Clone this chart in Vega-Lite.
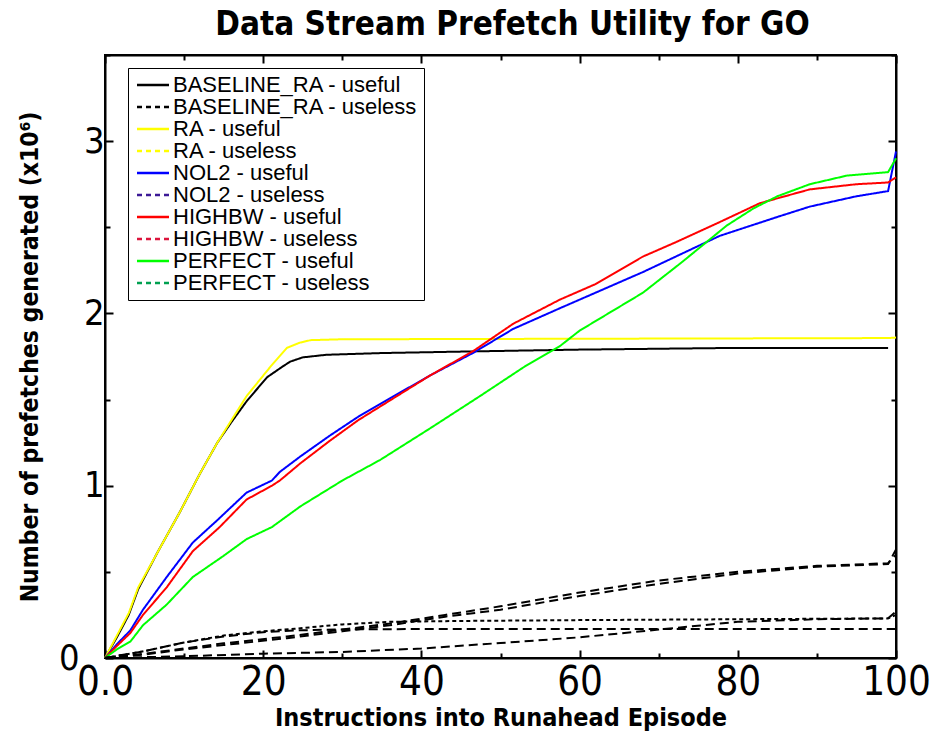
{
  "$schema": "https://vega.github.io/schema/vega-lite/v6.json",
  "width": 791,
  "height": 603,
  "autosize": "none",
  "padding": {"left": 105, "top": 55, "right": 45, "bottom": 79},
  "background": "white",
  "config": {"view": {"stroke": "black", "strokeWidth": 2}, "font": "Liberation Sans"},
  "title": {"text": "Data Stream Prefetch Utility for GO", "font": "'Liberation Sans Narrow', 'DejaVu Sans Condensed', 'Roboto Condensed', 'Liberation Sans'", "fontSize": 33, "fontWeight": "bold", "color": "black", "anchor": "middle", "offset": -5, "dx": 12},
  "datasets": {
    "useful": [
      {"series": "BASELINE_RA - useful", "instructions": 0, "prefetches": 0},
      {"series": "BASELINE_RA - useful", "instructions": 1.5, "prefetches": 0.12},
      {"series": "BASELINE_RA - useful", "instructions": 3, "prefetches": 0.25},
      {"series": "BASELINE_RA - useful", "instructions": 4.2, "prefetches": 0.4},
      {"series": "BASELINE_RA - useful", "instructions": 6.6, "prefetches": 0.61},
      {"series": "BASELINE_RA - useful", "instructions": 9.5, "prefetches": 0.85},
      {"series": "BASELINE_RA - useful", "instructions": 12, "prefetches": 1.07},
      {"series": "BASELINE_RA - useful", "instructions": 14.2, "prefetches": 1.25},
      {"series": "BASELINE_RA - useful", "instructions": 16, "prefetches": 1.37},
      {"series": "BASELINE_RA - useful", "instructions": 17.9, "prefetches": 1.49},
      {"series": "BASELINE_RA - useful", "instructions": 20.5, "prefetches": 1.63},
      {"series": "BASELINE_RA - useful", "instructions": 22.4, "prefetches": 1.69},
      {"series": "BASELINE_RA - useful", "instructions": 23.4, "prefetches": 1.72},
      {"series": "BASELINE_RA - useful", "instructions": 25, "prefetches": 1.745},
      {"series": "BASELINE_RA - useful", "instructions": 28, "prefetches": 1.76},
      {"series": "BASELINE_RA - useful", "instructions": 35, "prefetches": 1.77},
      {"series": "BASELINE_RA - useful", "instructions": 47, "prefetches": 1.78},
      {"series": "BASELINE_RA - useful", "instructions": 60, "prefetches": 1.79},
      {"series": "BASELINE_RA - useful", "instructions": 80, "prefetches": 1.8},
      {"series": "BASELINE_RA - useful", "instructions": 99, "prefetches": 1.8},
      {"series": "RA - useful", "instructions": 0, "prefetches": 0},
      {"series": "RA - useful", "instructions": 1.5, "prefetches": 0.13},
      {"series": "RA - useful", "instructions": 3, "prefetches": 0.26},
      {"series": "RA - useful", "instructions": 4.2, "prefetches": 0.41},
      {"series": "RA - useful", "instructions": 6.6, "prefetches": 0.61},
      {"series": "RA - useful", "instructions": 9.5, "prefetches": 0.85},
      {"series": "RA - useful", "instructions": 12, "prefetches": 1.07},
      {"series": "RA - useful", "instructions": 14.2, "prefetches": 1.25},
      {"series": "RA - useful", "instructions": 17.9, "prefetches": 1.52},
      {"series": "RA - useful", "instructions": 20.9, "prefetches": 1.69},
      {"series": "RA - useful", "instructions": 23, "prefetches": 1.8},
      {"series": "RA - useful", "instructions": 24.6, "prefetches": 1.83},
      {"series": "RA - useful", "instructions": 26, "prefetches": 1.845},
      {"series": "RA - useful", "instructions": 30, "prefetches": 1.85},
      {"series": "RA - useful", "instructions": 50, "prefetches": 1.852},
      {"series": "RA - useful", "instructions": 80, "prefetches": 1.855},
      {"series": "RA - useful", "instructions": 99, "prefetches": 1.857},
      {"series": "RA - useful", "instructions": 100, "prefetches": 1.86},
      {"series": "NOL2 - useful", "instructions": 0, "prefetches": 0},
      {"series": "NOL2 - useful", "instructions": 1.5, "prefetches": 0.08},
      {"series": "NOL2 - useful", "instructions": 3.2, "prefetches": 0.16},
      {"series": "NOL2 - useful", "instructions": 4.8, "prefetches": 0.28},
      {"series": "NOL2 - useful", "instructions": 7.8, "prefetches": 0.47},
      {"series": "NOL2 - useful", "instructions": 11.1, "prefetches": 0.67},
      {"series": "NOL2 - useful", "instructions": 14.2, "prefetches": 0.8},
      {"series": "NOL2 - useful", "instructions": 17.9, "prefetches": 0.96},
      {"series": "NOL2 - useful", "instructions": 21.1, "prefetches": 1.03},
      {"series": "NOL2 - useful", "instructions": 22.1, "prefetches": 1.08},
      {"series": "NOL2 - useful", "instructions": 24.7, "prefetches": 1.17},
      {"series": "NOL2 - useful", "instructions": 28.4, "prefetches": 1.29},
      {"series": "NOL2 - useful", "instructions": 32, "prefetches": 1.4},
      {"series": "NOL2 - useful", "instructions": 36.9, "prefetches": 1.53},
      {"series": "NOL2 - useful", "instructions": 41.1, "prefetches": 1.64},
      {"series": "NOL2 - useful", "instructions": 46.5, "prefetches": 1.77},
      {"series": "NOL2 - useful", "instructions": 51.6, "prefetches": 1.91},
      {"series": "NOL2 - useful", "instructions": 57.5, "prefetches": 2.03},
      {"series": "NOL2 - useful", "instructions": 60, "prefetches": 2.08},
      {"series": "NOL2 - useful", "instructions": 68, "prefetches": 2.24},
      {"series": "NOL2 - useful", "instructions": 77.7, "prefetches": 2.45},
      {"series": "NOL2 - useful", "instructions": 85, "prefetches": 2.56},
      {"series": "NOL2 - useful", "instructions": 89.1, "prefetches": 2.62},
      {"series": "NOL2 - useful", "instructions": 95, "prefetches": 2.68},
      {"series": "NOL2 - useful", "instructions": 99, "prefetches": 2.71},
      {"series": "NOL2 - useful", "instructions": 100, "prefetches": 2.94},
      {"series": "HIGHBW - useful", "instructions": 0, "prefetches": 0},
      {"series": "HIGHBW - useful", "instructions": 1.5, "prefetches": 0.07},
      {"series": "HIGHBW - useful", "instructions": 3.2, "prefetches": 0.145},
      {"series": "HIGHBW - useful", "instructions": 4.8, "prefetches": 0.25},
      {"series": "HIGHBW - useful", "instructions": 7.8, "prefetches": 0.41},
      {"series": "HIGHBW - useful", "instructions": 11.1, "prefetches": 0.62},
      {"series": "HIGHBW - useful", "instructions": 14.5, "prefetches": 0.76},
      {"series": "HIGHBW - useful", "instructions": 17.9, "prefetches": 0.92},
      {"series": "HIGHBW - useful", "instructions": 21.1, "prefetches": 1.0},
      {"series": "HIGHBW - useful", "instructions": 22.1, "prefetches": 1.03},
      {"series": "HIGHBW - useful", "instructions": 24.7, "prefetches": 1.13},
      {"series": "HIGHBW - useful", "instructions": 28.4, "prefetches": 1.26},
      {"series": "HIGHBW - useful", "instructions": 32, "prefetches": 1.38},
      {"series": "HIGHBW - useful", "instructions": 36.9, "prefetches": 1.52},
      {"series": "HIGHBW - useful", "instructions": 41.1, "prefetches": 1.64},
      {"series": "HIGHBW - useful", "instructions": 46.5, "prefetches": 1.78},
      {"series": "HIGHBW - useful", "instructions": 51.6, "prefetches": 1.94},
      {"series": "HIGHBW - useful", "instructions": 57.5, "prefetches": 2.08},
      {"series": "HIGHBW - useful", "instructions": 62, "prefetches": 2.17},
      {"series": "HIGHBW - useful", "instructions": 68, "prefetches": 2.33},
      {"series": "HIGHBW - useful", "instructions": 72, "prefetches": 2.41},
      {"series": "HIGHBW - useful", "instructions": 77.7, "prefetches": 2.53},
      {"series": "HIGHBW - useful", "instructions": 82.8, "prefetches": 2.64},
      {"series": "HIGHBW - useful", "instructions": 89.1, "prefetches": 2.72},
      {"series": "HIGHBW - useful", "instructions": 95, "prefetches": 2.75},
      {"series": "HIGHBW - useful", "instructions": 99, "prefetches": 2.76},
      {"series": "HIGHBW - useful", "instructions": 100, "prefetches": 2.79},
      {"series": "PERFECT - useful", "instructions": 0, "prefetches": 0},
      {"series": "PERFECT - useful", "instructions": 1.5, "prefetches": 0.05},
      {"series": "PERFECT - useful", "instructions": 3.2, "prefetches": 0.095},
      {"series": "PERFECT - useful", "instructions": 4.8, "prefetches": 0.19},
      {"series": "PERFECT - useful", "instructions": 7.8, "prefetches": 0.31},
      {"series": "PERFECT - useful", "instructions": 11.1, "prefetches": 0.47},
      {"series": "PERFECT - useful", "instructions": 14.9, "prefetches": 0.59},
      {"series": "PERFECT - useful", "instructions": 17.9, "prefetches": 0.69},
      {"series": "PERFECT - useful", "instructions": 21.1, "prefetches": 0.76},
      {"series": "PERFECT - useful", "instructions": 24.7, "prefetches": 0.88},
      {"series": "PERFECT - useful", "instructions": 30, "prefetches": 1.03},
      {"series": "PERFECT - useful", "instructions": 34.8, "prefetches": 1.15},
      {"series": "PERFECT - useful", "instructions": 41, "prefetches": 1.33},
      {"series": "PERFECT - useful", "instructions": 47.4, "prefetches": 1.52},
      {"series": "PERFECT - useful", "instructions": 53, "prefetches": 1.69},
      {"series": "PERFECT - useful", "instructions": 57.5, "prefetches": 1.81},
      {"series": "PERFECT - useful", "instructions": 60, "prefetches": 1.9},
      {"series": "PERFECT - useful", "instructions": 64, "prefetches": 2.01},
      {"series": "PERFECT - useful", "instructions": 68, "prefetches": 2.12},
      {"series": "PERFECT - useful", "instructions": 73, "prefetches": 2.3},
      {"series": "PERFECT - useful", "instructions": 78.6, "prefetches": 2.51},
      {"series": "PERFECT - useful", "instructions": 82, "prefetches": 2.61},
      {"series": "PERFECT - useful", "instructions": 85, "prefetches": 2.68},
      {"series": "PERFECT - useful", "instructions": 89.1, "prefetches": 2.75},
      {"series": "PERFECT - useful", "instructions": 93.8, "prefetches": 2.8},
      {"series": "PERFECT - useful", "instructions": 99, "prefetches": 2.82},
      {"series": "PERFECT - useful", "instructions": 100, "prefetches": 2.9}
    ],
    "useless": [
      {"series": "BASELINE_RA - useless", "instructions": 0, "prefetches": 0},
      {"series": "BASELINE_RA - useless", "instructions": 5, "prefetches": 0.04},
      {"series": "BASELINE_RA - useless", "instructions": 10, "prefetches": 0.09},
      {"series": "BASELINE_RA - useless", "instructions": 15, "prefetches": 0.125},
      {"series": "BASELINE_RA - useless", "instructions": 20, "prefetches": 0.15},
      {"series": "BASELINE_RA - useless", "instructions": 24, "prefetches": 0.16},
      {"series": "BASELINE_RA - useless", "instructions": 30, "prefetches": 0.166},
      {"series": "BASELINE_RA - useless", "instructions": 40, "prefetches": 0.168},
      {"series": "BASELINE_RA - useless", "instructions": 99, "prefetches": 0.168},
      {"series": "BASELINE_RA - useless", "instructions": 100, "prefetches": 0.168},
      {"series": "RA - useless", "instructions": 0, "prefetches": 0},
      {"series": "RA - useless", "instructions": 5, "prefetches": 0.04},
      {"series": "RA - useless", "instructions": 10, "prefetches": 0.09},
      {"series": "RA - useless", "instructions": 15, "prefetches": 0.13},
      {"series": "RA - useless", "instructions": 20, "prefetches": 0.155},
      {"series": "RA - useless", "instructions": 24, "prefetches": 0.17},
      {"series": "RA - useless", "instructions": 30, "prefetches": 0.195},
      {"series": "RA - useless", "instructions": 36, "prefetches": 0.21},
      {"series": "RA - useless", "instructions": 45, "prefetches": 0.215},
      {"series": "RA - useless", "instructions": 60, "prefetches": 0.22},
      {"series": "RA - useless", "instructions": 80, "prefetches": 0.225},
      {"series": "RA - useless", "instructions": 99, "prefetches": 0.23},
      {"series": "RA - useless", "instructions": 100, "prefetches": 0.25},
      {"series": "NOL2 - useless", "instructions": 0, "prefetches": 0},
      {"series": "NOL2 - useless", "instructions": 5, "prefetches": 0.02},
      {"series": "NOL2 - useless", "instructions": 10, "prefetches": 0.05},
      {"series": "NOL2 - useless", "instructions": 15, "prefetches": 0.075},
      {"series": "NOL2 - useless", "instructions": 23, "prefetches": 0.115},
      {"series": "NOL2 - useless", "instructions": 30, "prefetches": 0.155},
      {"series": "NOL2 - useless", "instructions": 36, "prefetches": 0.19},
      {"series": "NOL2 - useless", "instructions": 43, "prefetches": 0.24},
      {"series": "NOL2 - useless", "instructions": 50, "prefetches": 0.28},
      {"series": "NOL2 - useless", "instructions": 60, "prefetches": 0.36},
      {"series": "NOL2 - useless", "instructions": 70, "prefetches": 0.43},
      {"series": "NOL2 - useless", "instructions": 80, "prefetches": 0.49},
      {"series": "NOL2 - useless", "instructions": 90, "prefetches": 0.53},
      {"series": "NOL2 - useless", "instructions": 99, "prefetches": 0.545},
      {"series": "NOL2 - useless", "instructions": 100, "prefetches": 0.63},
      {"series": "HIGHBW - useless", "instructions": 0, "prefetches": 0},
      {"series": "HIGHBW - useless", "instructions": 5, "prefetches": 0.025},
      {"series": "HIGHBW - useless", "instructions": 10, "prefetches": 0.055},
      {"series": "HIGHBW - useless", "instructions": 15, "prefetches": 0.085},
      {"series": "HIGHBW - useless", "instructions": 23, "prefetches": 0.125},
      {"series": "HIGHBW - useless", "instructions": 30, "prefetches": 0.165},
      {"series": "HIGHBW - useless", "instructions": 36, "prefetches": 0.2},
      {"series": "HIGHBW - useless", "instructions": 43, "prefetches": 0.25},
      {"series": "HIGHBW - useless", "instructions": 50, "prefetches": 0.3},
      {"series": "HIGHBW - useless", "instructions": 60, "prefetches": 0.38},
      {"series": "HIGHBW - useless", "instructions": 70, "prefetches": 0.45},
      {"series": "HIGHBW - useless", "instructions": 80, "prefetches": 0.5},
      {"series": "HIGHBW - useless", "instructions": 90, "prefetches": 0.535},
      {"series": "HIGHBW - useless", "instructions": 99, "prefetches": 0.55},
      {"series": "HIGHBW - useless", "instructions": 100, "prefetches": 0.6},
      {"series": "PERFECT - useless", "instructions": 0, "prefetches": 0},
      {"series": "PERFECT - useless", "instructions": 5, "prefetches": 0.005},
      {"series": "PERFECT - useless", "instructions": 10, "prefetches": 0.01},
      {"series": "PERFECT - useless", "instructions": 20, "prefetches": 0.025},
      {"series": "PERFECT - useless", "instructions": 30, "prefetches": 0.035},
      {"series": "PERFECT - useless", "instructions": 40, "prefetches": 0.055},
      {"series": "PERFECT - useless", "instructions": 50, "prefetches": 0.087},
      {"series": "PERFECT - useless", "instructions": 60, "prefetches": 0.12},
      {"series": "PERFECT - useless", "instructions": 70, "prefetches": 0.165},
      {"series": "PERFECT - useless", "instructions": 80, "prefetches": 0.21},
      {"series": "PERFECT - useless", "instructions": 90, "prefetches": 0.225},
      {"series": "PERFECT - useless", "instructions": 99, "prefetches": 0.23},
      {"series": "PERFECT - useless", "instructions": 100, "prefetches": 0.27}
    ]
  },
  "layer": [
    {
      "data": {"name": "useful"},
      "mark": {"type": "line", "strokeWidth": 2},
      "encoding": {
        "x": {"field": "instructions", "type": "quantitative", "scale": {"domain": [0, 100], "nice": false, "zero": true},
          "axis": {"orient": "bottom", "values": [0, 10, 20, 30, 40, 50, 60, 70, 80, 90, 100],
            "labelExpr": "datum.value == 0 ? '0.0' : (datum.value % 20 == 0 ? datum.label : '')",
            "tickSize": {"condition": {"test": "datum.value % 20 == 0", "value": -8}, "value": -5},
            "tickColor": "black", "tickWidth": 2, "domainColor": "black", "domainWidth": 2, "grid": false,
            "labelFont": "'Liberation Sans Narrow', 'DejaVu Sans Condensed', 'Roboto Condensed', 'Liberation Sans'", "labelFontSize": 40, "labelColor": "black", "labelPadding": 12,
            "labelFlush": false, "labelOverlap": false,
            "title": "Instructions into Runahead Episode", "titleFont": "'Liberation Sans Narrow', 'DejaVu Sans Condensed', 'Roboto Condensed', 'Liberation Sans'", "titleFontSize": 25,
            "titleFontWeight": "bold", "titleColor": "black", "titlePadding": 0}},
        "y": {"field": "prefetches", "type": "quantitative", "scale": {"domain": [0, 3.5], "nice": false},
          "axis": {"orient": "left", "values": [0, 0.5, 1, 1.5, 2, 2.5, 3, 3.5],
            "labelExpr": "datum.value % 1 == 0 ? format(datum.value, 'd') : ''",
            "tickSize": {"condition": {"test": "datum.value % 1 == 0", "value": -8}, "value": -5},
            "tickColor": "black", "tickWidth": 2, "domainColor": "black", "domainWidth": 2, "grid": false,
            "labelFont": "'Liberation Sans Narrow', 'DejaVu Sans Condensed', 'Roboto Condensed', 'Liberation Sans'", "labelFontSize": 36, "labelColor": "black",
            "labelPadding": {"condition": {"test": "datum.value == 0", "value": 34}, "value": 9},
            "labelFlush": false, "labelOverlap": false,
            "title": "Number of prefetches generated (x10⁶)", "titleFont": "'Liberation Sans Narrow', 'DejaVu Sans Condensed', 'Roboto Condensed', 'Liberation Sans'", "titleFontSize": 24.5,
            "titleFontWeight": "bold", "titleColor": "black", "titlePadding": 16}},
        "color": {"field": "series", "type": "nominal",
          "scale": {"domain": ["BASELINE_RA - useful", "BASELINE_RA - useless", "RA - useful", "RA - useless", "NOL2 - useful", "NOL2 - useless", "HIGHBW - useful", "HIGHBW - useless", "PERFECT - useful", "PERFECT - useless"],
            "range": ["#000000", "#000000", "#ffff00", "#ffff00", "#0000ff", "#3c1a96", "#ff0000", "#dc143c", "#00ff00", "#00a050"]},
          "legend": {"title": null, "orient": "none", "legendX": 23, "legendY": 13, "symbolType": "M-3.2,0H3.2", "symbolSize": 100,
            "symbolStrokeWidth": 2.5, "symbolOffset": 8, "labelFontSize": 22, "labelFont": "Liberation Sans", "labelColor": "black",
            "strokeColor": "black", "fillColor": "white", "padding": 6, "rowPadding": 0, "labelOffset": 9, "labelLimit": 400}},
        "strokeDash": {"field": "series", "type": "nominal",
          "scale": {"domain": ["BASELINE_RA - useful", "BASELINE_RA - useless", "RA - useful", "RA - useless", "NOL2 - useful", "NOL2 - useless", "HIGHBW - useful", "HIGHBW - useless", "PERFECT - useful", "PERFECT - useless"],
            "range": [[1, 0], [5, 4], [1, 0], [5, 4], [1, 0], [5, 4], [1, 0], [5, 4], [1, 0], [5, 4]]},
          "legend": {"title": null, "orient": "none", "legendX": 23, "legendY": 13, "symbolType": "M-3.2,0H3.2", "symbolSize": 100,
            "symbolStrokeWidth": 2.5, "symbolOffset": 8, "labelFontSize": 22, "labelFont": "Liberation Sans", "labelColor": "black",
            "strokeColor": "black", "fillColor": "white", "padding": 6, "rowPadding": 0, "labelOffset": 9, "labelLimit": 400}}
      }
    },
    {
      "data": {"name": "useless"},
      "transform": [{"filter": "datum.series != 'RA - useless'"}],
      "mark": {"type": "line", "strokeWidth": 2, "color": "black", "strokeDash": [9, 5]},
      "encoding": {
        "x": {"field": "instructions", "type": "quantitative",
          "axis": {"orient": "top", "values": [0, 10, 20, 30, 40, 50, 60, 70, 80, 90, 100], "labels": false, "title": null,
            "tickSize": {"condition": {"test": "datum.value % 20 == 0", "value": -8}, "value": -5},
            "tickColor": "black", "tickWidth": 2, "domainColor": "black", "domainWidth": 2, "grid": false}},
        "y": {"field": "prefetches", "type": "quantitative",
          "axis": {"orient": "right", "values": [0, 0.5, 1, 1.5, 2, 2.5, 3, 3.5], "labels": false, "title": null,
            "tickSize": {"condition": {"test": "datum.value % 1 == 0", "value": -8}, "value": -5},
            "tickColor": "black", "tickWidth": 2, "domainColor": "black", "domainWidth": 2, "grid": false}},
        "detail": {"field": "series", "type": "nominal"}
      }
    },
    {
      "data": {"name": "useless"},
      "transform": [{"filter": "datum.series == 'RA - useless'"}],
      "mark": {"type": "line", "strokeWidth": 2, "color": "black", "strokeDash": [4, 3]},
      "encoding": {
        "x": {"field": "instructions", "type": "quantitative", "axis": null},
        "y": {"field": "prefetches", "type": "quantitative", "axis": null},
        "detail": {"field": "series", "type": "nominal"}
      }
    }
  ],
  "resolve": {"axis": {"x": "independent", "y": "independent"}}
}
